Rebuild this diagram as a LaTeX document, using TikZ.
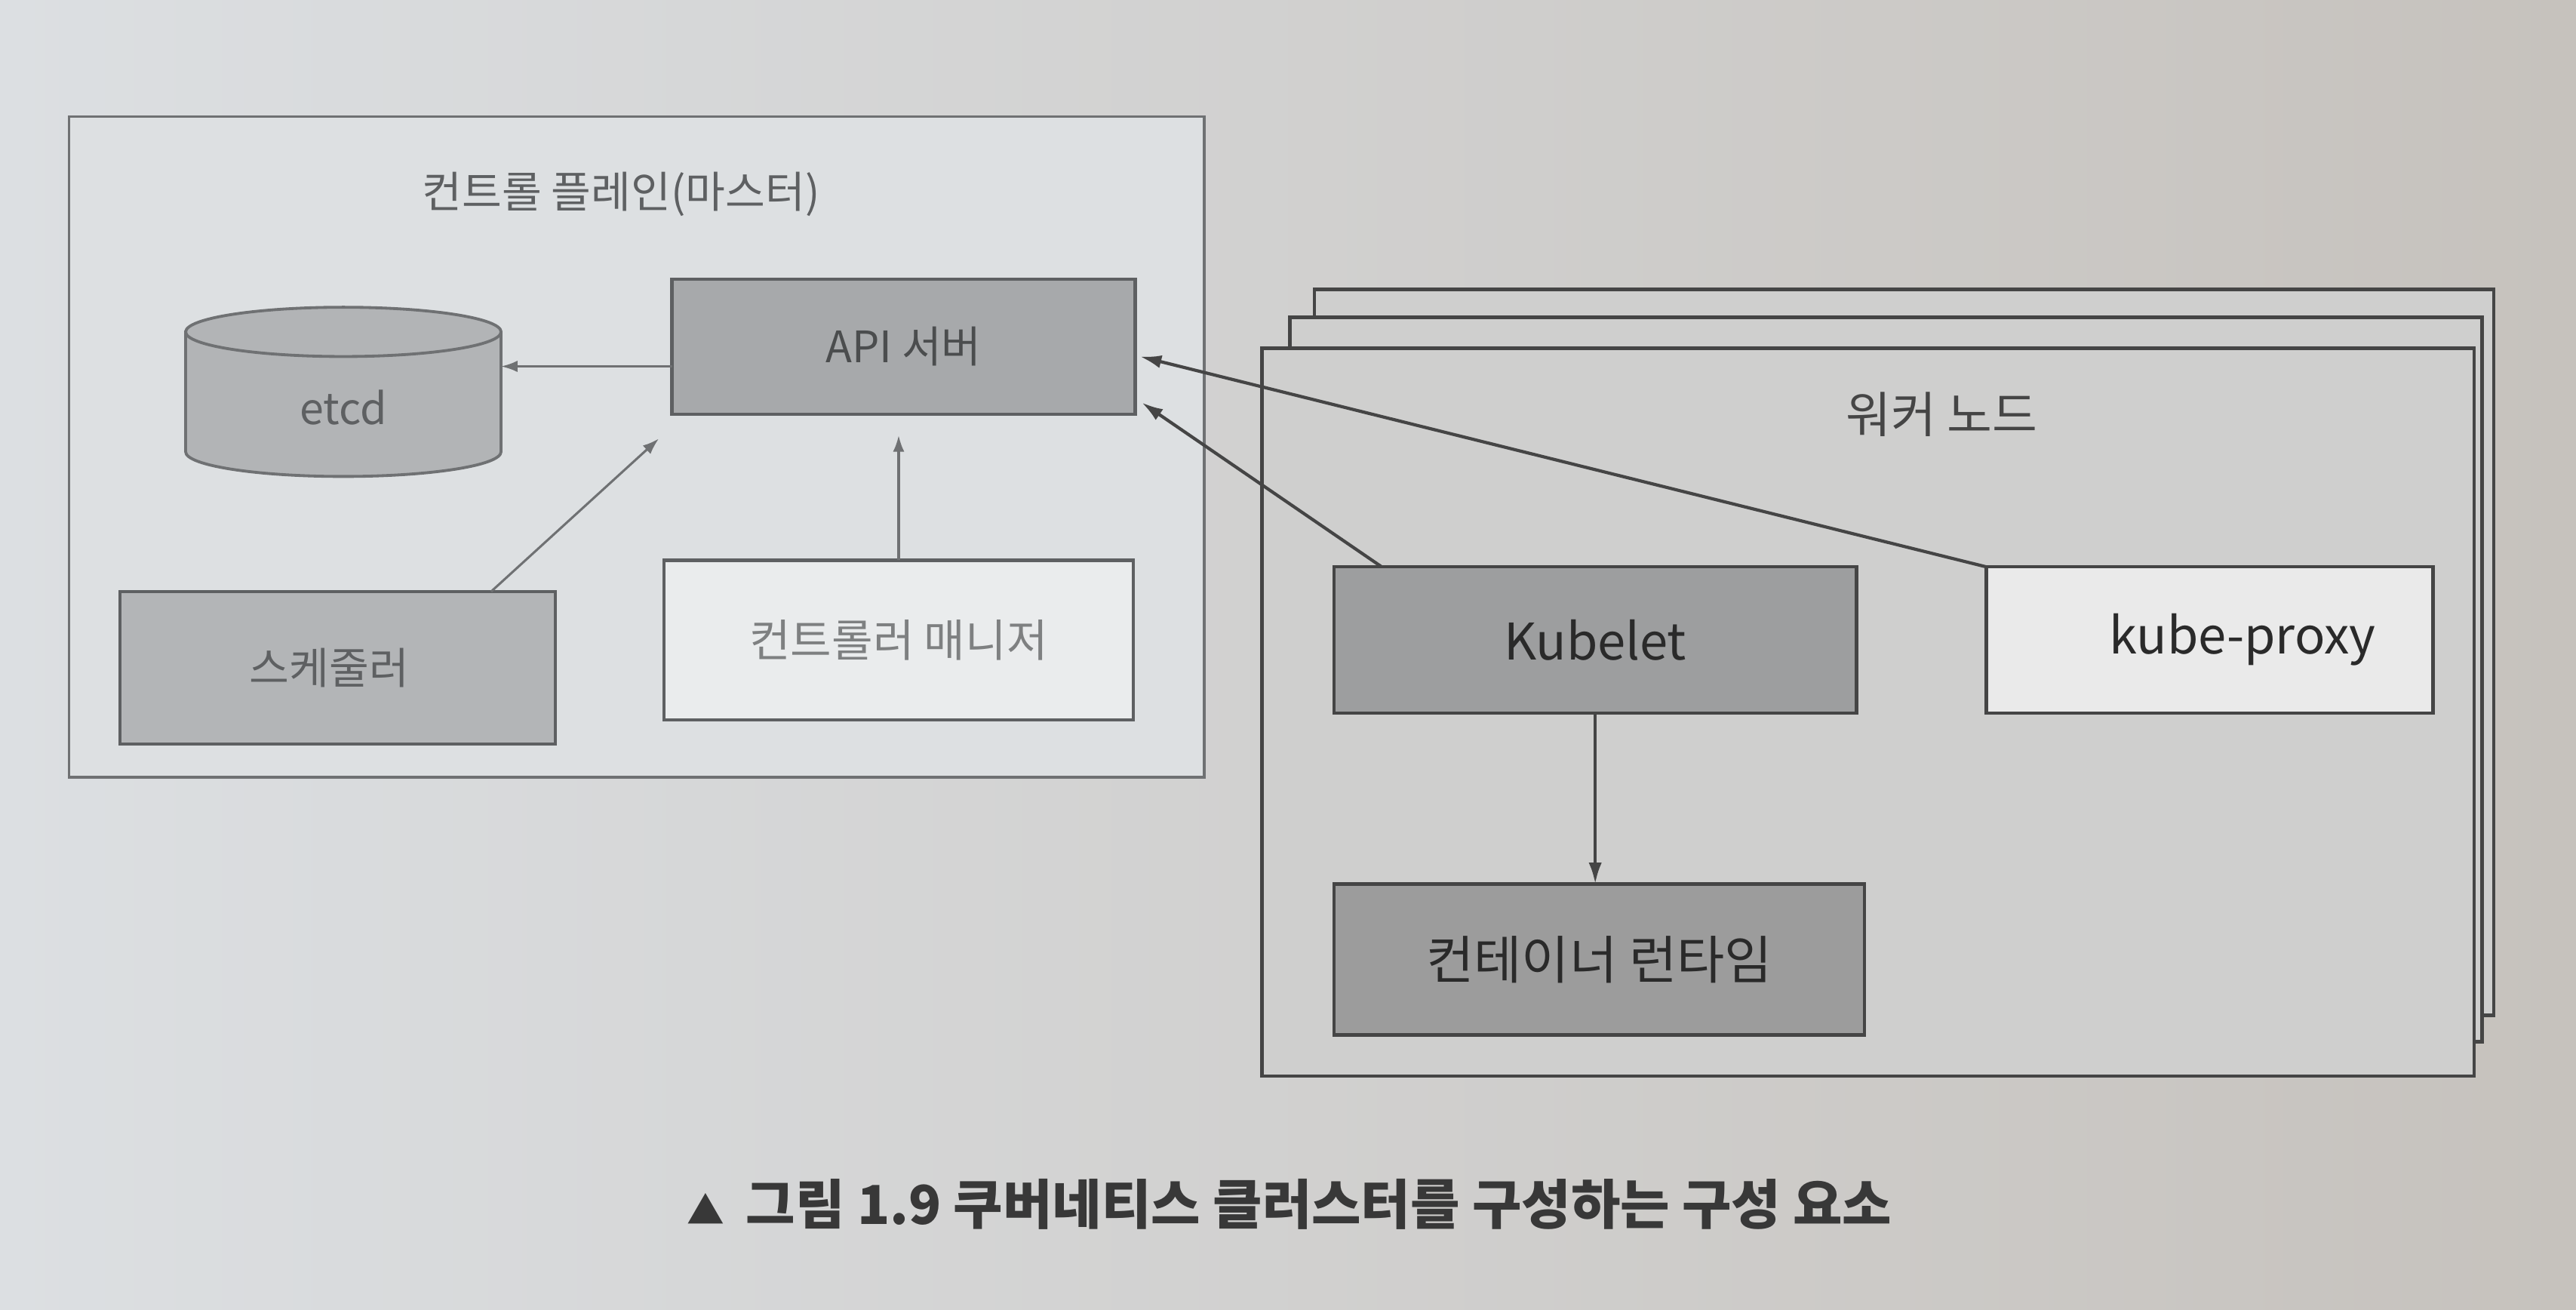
\documentclass[tikz,border=0pt]{standalone}
\usepackage{fontspec}
\setmainfont{Noto Sans CJK KR}
\usetikzlibrary{arrows.meta,calc}
\definecolor{pageL}{HTML}{DCDFE2}
\definecolor{pageR}{HTML}{C6C2BD}
\definecolor{cpfill}{HTML}{DDE0E2}
\definecolor{cpline}{HTML}{6F7173}
\definecolor{apifill}{HTML}{A7A9AB}
\definecolor{schedfill}{HTML}{B3B5B7}
\definecolor{cmfill}{HTML}{EAECED}
\definecolor{etcdfill}{HTML}{B2B4B6}
\definecolor{wkfill}{HTML}{CFCFCE}
\definecolor{wkline}{HTML}{454545}
\definecolor{kubfill}{HTML}{9D9E9F}
\definecolor{crfill}{HTML}{9C9C9C}
\definecolor{kpfill}{HTML}{EAEAEA}
\definecolor{ltext}{HTML}{5E6062}
\definecolor{dtext}{HTML}{2A2A2A}
\definecolor{captext}{HTML}{383838}
\begin{document}
\begin{tikzpicture}[x=0.02cm,y=-0.02cm,
  every node/.style={outer sep=0pt, inner sep=0pt},
  cpbox/.style={draw=cpline, line width=0.9pt, fill=cpfill},
  lcomp/.style={draw=cpline!85!black, line width=1.1pt, text=ltext,
    font=\fontsize{15pt}{18pt}\selectfont},
  wkbox/.style={draw=wkline, line width=1.2pt, fill=wkfill},
  rcomp/.style={draw=wkline, line width=1.2pt, text=dtext,
    font=\fontsize{17.5pt}{20pt}\selectfont},
  thinarr/.style={draw=cpline, line width=0.8pt, -{Latex[length=0.2cm,width=0.14cm]}},
  darr/.style={draw=wkline, line width=1.1pt, -{Latex[length=0.26cm,width=0.16cm]}}
]
\shade[left color=pageL, right color=pageR] (0,0) rectangle (1568,797);
\useasboundingbox (0,0) rectangle (1568,797);

% ---------- control plane ----------
\node[cpbox, minimum width=13.82cm, minimum height=8.04cm] (cp) at (387.5,272) {};
\node[text=ltext, font=\fontsize{15pt}{18pt}\selectfont] (cptitle) at (378,118) {컨트롤 플레인(마스터)};

% etcd cylinder
\filldraw[fill=etcdfill, draw=cpline, line width=1pt]
  (113,202) -- (113,275) arc[start angle=180,end angle=360,x radius=1.92cm,y radius=0.3cm]
  -- (305,202) arc[start angle=0,end angle=180,x radius=1.92cm,y radius=0.3cm] -- cycle;
\draw[cpline, line width=1pt] (113,202) arc[start angle=180,end angle=360,x radius=1.92cm,y radius=0.3cm];
\node[text=ltext, font=\fontsize{15pt}{18pt}\selectfont, minimum width=3.84cm] (etcd) at (209,248) {etcd};

\node[lcomp, fill=apifill, minimum width=5.64cm, minimum height=1.64cm, text=ltext!80!black] (api) at (550,211) {API 서버};
\node[lcomp, fill=schedfill, minimum width=5.3cm, minimum height=1.86cm] (sched) at (205.5,406.5) {\hspace*{-0.2cm}스케줄러};
\node[lcomp, fill=cmfill, minimum width=5.72cm, minimum height=1.94cm, text=ltext!80!white,
  font=\fontsize{15.5pt}{18pt}\selectfont] (cm) at (547,389.5) {컨트롤러 매니저};

\coordinate (a1) at ([yshift=-0.24cm]api.west);
\draw[thinarr] (a1) -- (a1 -| etcd.east);
\draw[thinarr] ([xshift=1.87cm]sched.north) -- ([shift={(-0.16cm,-0.3cm)}]api.south west);
\draw[thinarr, shorten >=0.26cm] (cm.north) -- (cm.north |- api.south);

% ---------- worker nodes ----------
\node[wkbox, minimum width=14.36cm, minimum height=8.84cm] (wk3) at (1159,397) {};
\node[wkbox, minimum width=14.52cm, minimum height=8.82cm] (wk2) at (1148,413.5) {};
\node[wkbox, minimum width=14.76cm, minimum height=8.86cm] (wk1) at (1137,433.5) {};
\node[text=wkline, font=\fontsize{17pt}{20pt}\selectfont] (wktitle) at (1182,252) {워커 노드};

\node[rcomp, fill=kubfill, minimum width=6.36cm, minimum height=1.78cm] (kubelet) at (971,389.5) {Kubelet};
\node[rcomp, fill=crfill, minimum width=6.46cm, minimum height=1.84cm,
  font=\fontsize{18pt}{21pt}\selectfont] (cr) at (973.5,584) {컨테이너 런타임};
\node[rcomp, fill=kpfill, minimum width=5.44cm, minimum height=1.78cm] (kp) at (1345,389.5) {\hspace*{0.8cm}kube-proxy};

\draw[darr] (kubelet.south) -- (kubelet.south |- cr.north);
\draw[darr] ([xshift=-2.6cm]kubelet.north) -- ([xshift=0.08cm,yshift=0.14cm]api.south east);
\draw[darr] (kp.north west) -- ([xshift=0.06cm,yshift=-0.12cm]api.east);

% ---------- caption ----------
\node[text=captext, font=\bfseries\fontsize{18.6pt}{22pt}\selectfont] (cap) at (785,733)
  {{\fontsize{13pt}{15pt}\selectfont ▲}\, 그림 1.9 쿠버네티스 클러스터를 구성하는 구성 요소};
\end{tikzpicture}
\end{document}
